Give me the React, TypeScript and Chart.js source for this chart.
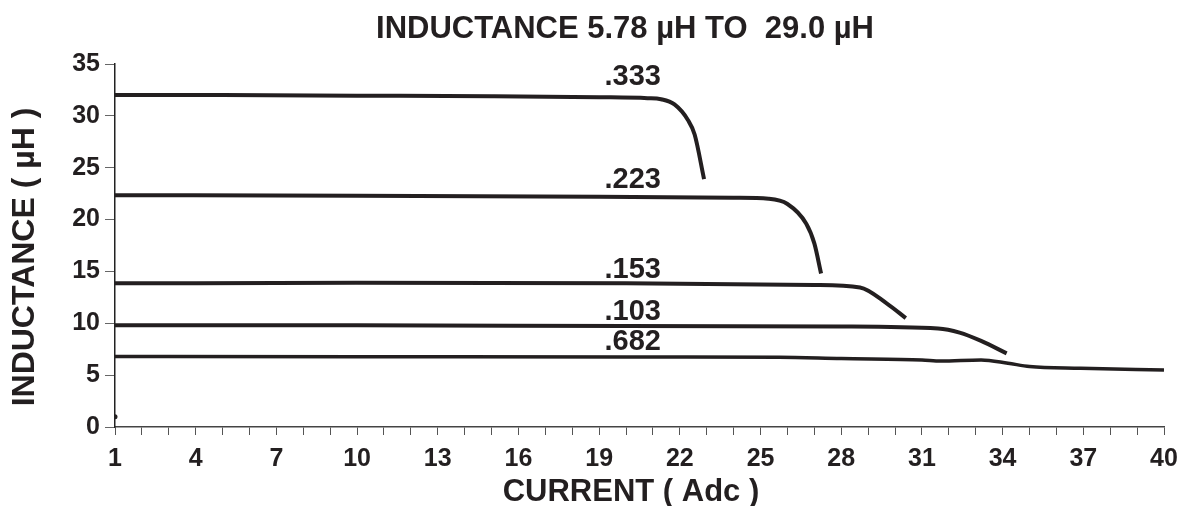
import React, { useEffect, useRef } from "react";
import { Chart, registerables } from "chart.js";

Chart.register(...registerables);

const TITLE = "INDUCTANCE 5.78 µH TO  29.0 µH";
const X_TITLE = "CURRENT ( Adc )";
const Y_TITLE = "INDUCTANCE ( µH )";

const curveNames = [".333", ".223", ".153", ".103", ".682"];

const x333 = [1, 5, 10, 15, 19, 20.8, 21.3, 21.8, 22.3, 22.55, 22.9];
const y333 = [32.0, 32.0, 31.95, 31.9, 31.8, 31.7, 31.6, 31.1, 29.6, 28.2, 23.9];

const x223 = [1, 10, 19, 24, 25.3, 26.0, 26.7, 27.0, 27.25];
const y223 = [22.35, 22.3, 22.2, 22.1, 22.0, 21.5, 19.6, 17.7, 14.8];

const x153 = [1, 10, 20, 27, 28.7, 29.7, 30.4];
const y153 = [13.85, 13.9, 13.85, 13.7, 13.45, 11.9, 10.5];

const x103 = [1, 10, 20, 28, 31.6, 32.4, 33.2, 34.15];
const y103 = [9.8, 9.8, 9.75, 9.7, 9.5, 9.1, 8.3, 7.1];

const x682 = [1, 10, 20, 25.7, 28, 31, 31.7, 33.2, 34.2, 35.0, 36.9, 40];
const y682 = [6.8, 6.78, 6.75, 6.73, 6.6, 6.47, 6.37, 6.47, 6.15, 5.83, 5.67, 5.5];

const markerX = [1];
const markerY = [1];

const labelAnchorX = 20.25;
const labelAnchorY = [33.7, 23.8, 15.1, 11.1, 8.15];

const xTickLabels = [1, 4, 7, 10, 13, 16, 19, 22, 25, 28, 31, 34, 37, 40];
const yTickLabels = [0, 5, 10, 15, 20, 25, 30, 35];

const INK = "#231f20";
const FONT = '"Liberation Sans", Arial, Helvetica, sans-serif';

const toPoints = (xs: number[], ys: number[]) => xs.map((v, i) => ({ x: v, y: ys[i] }));

const textPlugin = {
  id: "chartTexts",
  afterDraw(chart: any) {
    const { ctx, scales } = chart;
    const xs = scales.x;
    const ys = scales.y;
    ctx.save();
    ctx.fillStyle = INK;
    ctx.textAlign = "center";
    ctx.textBaseline = "middle";
    ctx.font = `bold 31px ${FONT}`;
    ctx.fillText(TITLE, 625, 29);
    ctx.fillText(X_TITLE, 631, 492);
    ctx.save();
    ctx.font = `bold 32px ${FONT}`;
    ctx.translate(25, 257);
    ctx.rotate(-Math.PI / 2);
    ctx.fillText(Y_TITLE, 0, 0);
    ctx.restore();
    ctx.font = `bold 29px ${FONT}`;
    curveNames.forEach((name, i) => {
      ctx.fillText(name, xs.getPixelForValue(labelAnchorX), ys.getPixelForValue(labelAnchorY[i]));
    });
    ctx.restore();
  },
};

export default function App() {
  const ref = useRef<HTMLCanvasElement | null>(null);
  useEffect(() => {
    document.body.style.margin = "0";
    const lineDs = (xs: number[], ys: number[], label: string, w: number) => ({
      label,
      data: toPoints(xs, ys),
      borderColor: INK,
      borderWidth: w,
      pointRadius: 0,
      fill: false,
      tension: 0.4,
      cubicInterpolationMode: "monotone" as const,
      borderCapStyle: "butt" as const,
    });
    const chart = new Chart(ref.current as HTMLCanvasElement, {
      type: "line",
      data: {
        datasets: [
          lineDs(x333, y333, curveNames[0], 4),
          lineDs(x223, y223, curveNames[1], 4),
          lineDs(x153, y153, curveNames[2], 4),
          lineDs(x103, y103, curveNames[3], 4),
          lineDs(x682, y682, curveNames[4], 3.5),
          {
            label: "marker",
            data: toPoints(markerX, markerY),
            showLine: false,
            pointRadius: 2.5,
            pointBackgroundColor: INK,
            pointBorderWidth: 0,
          } as any,
        ],
      },
      options: {
        animation: false,
        responsive: true,
        maintainAspectRatio: false,
        layout: { padding: { top: 64, right: 17, left: 0, bottom: 0 } },
        plugins: {
          legend: { display: false },
          tooltip: { enabled: false },
          title: { display: false },
        },
        scales: {
          x: {
            type: "linear",
            min: 1,
            max: 40,
            afterFit: (s: any) => {
              s.height = 79;
              s.paddingLeft = 0;
              s.paddingRight = 0;
            },
            ticks: {
              stepSize: 1,
              autoSkip: false,
              maxRotation: 0,
              padding: 9,
              color: INK,
              font: { family: FONT, size: 25, weight: "bold" },
              callback: (v: any) => (xTickLabels.includes(Number(v)) ? String(v) : ""),
            },
            grid: {
              drawOnChartArea: false,
              drawTicks: true,
              tickLength: 8,
              color: "#555",
              lineWidth: 1,
            },
            border: { color: "#444", width: 1.5 },
          },
          y: {
            type: "linear",
            min: 0,
            max: 35,
            afterFit: (s: any) => {
              s.width = 115;
              s.paddingTop = 0;
              s.paddingBottom = 0;
            },
            ticks: {
              stepSize: 5,
              padding: 5,
              color: INK,
              font: { family: FONT, size: 25, weight: "bold" },
              callback: (v: any) => (yTickLabels.includes(Number(v)) ? String(v) : ""),
            },
            grid: {
              drawOnChartArea: false,
              drawTicks: true,
              tickLength: 10,
              color: "#666",
              lineWidth: 1,
            },
            border: { color: "#222", width: 1.5 },
          },
        },
      },
      plugins: [textPlugin],
    });
    return () => chart.destroy();
  }, []);
  return (
    <div style={{ width: "1181px", height: "506px", position: "relative" }}>
      <canvas ref={ref} />
    </div>
  );
}
